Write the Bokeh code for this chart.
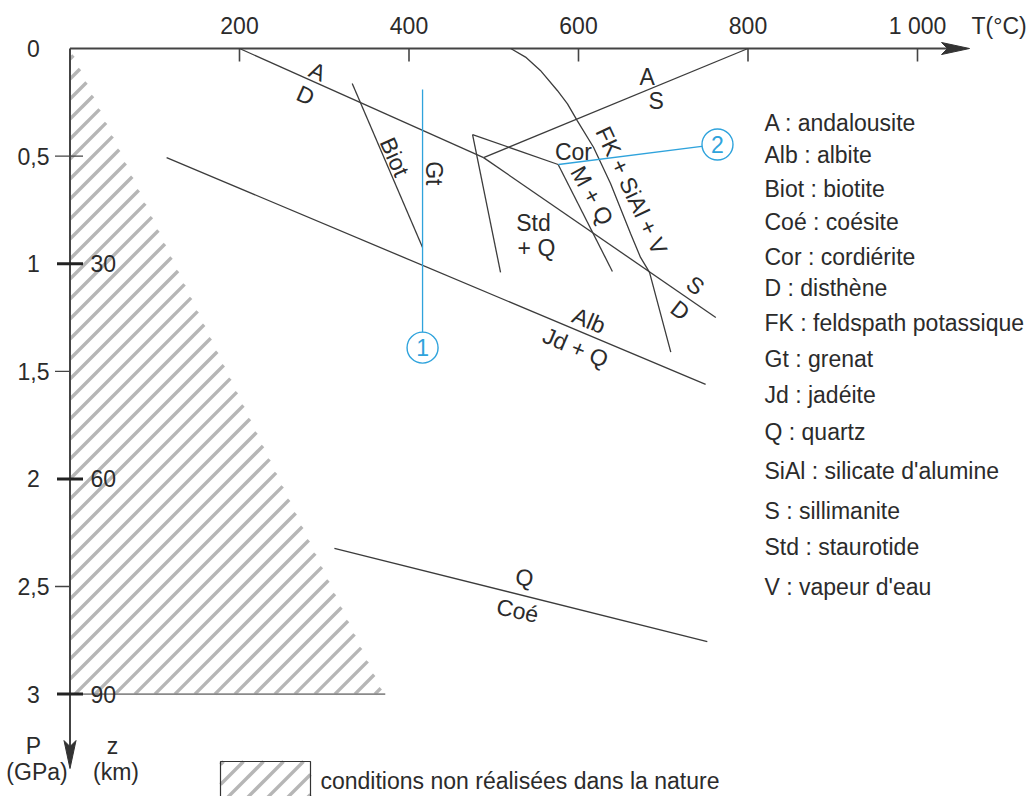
import math
from bokeh.plotting import figure
from bokeh.models import Range1d
from bokeh.core.properties import value
from bokeh.embed import file_html
from bokeh.resources import INLINE

# ---- axes values -----------------------------------------------------------
t_ticks = [200, 400, 600, 800, 1000]
t_tick_labels = ["200", "400", "600", "800", "1 000"]
p_ticks = [0, 0.5, 1, 1.5, 2, 2.5, 3]
p_tick_labels = ["0", "0,5", "1", "1,5", "2", "2,5", "3"]
p_major = [1, 2, 3]
p_minor = [0.5, 1.5, 2.5]
depth_ticks = [1, 2, 3]
depth_labels = ["30", "60", "90"]

# ---- reaction boundaries (T in °C, P in GPa) -------------------------------
ad_T, ad_P = [200, 488], [0.0, 0.507]            # andalousite / disthène
as_T, as_P = [488, 800], [0.507, 0.0]            # andalousite / sillimanite
sd_T, sd_P = [488, 762], [0.507, 1.25]           # sillimanite / disthène
biot_T, biot_P = [333, 416], [0.163, 0.925]      # biotite / grenat
alb_T, alb_P = [114, 750], [0.507, 1.561]        # albite / jadéite + quartz
coe_T, coe_P = [312, 752], [2.323, 2.756]        # quartz / coésite
std_T, std_P = [475, 508], [0.40, 1.04]          # staurotide + quartz, low-T side
stdcor_T, stdcor_P = [475, 576], [0.40, 0.539]   # staurotide / cordiérite
mq_T, mq_P = [576, 640], [0.539, 1.036]          # cordiérite / M + Q
fk_T = [520, 537.5, 555, 575, 587, 598.5, 617.7, 637.8, 661.4, 673.2, 683.8, 708.9]
fk_P = [0.0, 0.04, 0.102, 0.195, 0.257, 0.335, 0.459, 0.627, 0.860, 0.971, 1.04, 1.411]

# ---- P-T paths -----------------------------------------------------------------
path1_T, path1_P = [416, 416], [0.19, 1.39]
path2_T, path2_P = [576.4, 764], [0.539, 0.446]

# ---- forbidden domain --------------------------------------------------------
hatch_T, hatch_P = [0, 370, 0], [0.0, 3.0, 3.0]
floor_T, floor_P = [0, 372], [3.0, 3.0]

legend_entries = [
    "A : andalousite", "Alb : albite", "Biot : biotite", "Coé : coésite",
    "Cor : cordiérite", "D : disthène", "FK : feldspath potassique",
    "Gt : grenat", "Jd : jadéite", "Q : quartz", "SiAl : silicate d'alumine",
    "S : sillimanite", "Std : staurotide", "V : vapeur d'eau",
]
legend_rows_P = [0.347, 0.497, 0.655, 0.807, 0.970, 1.115, 1.276,
                 1.445, 1.608, 1.783, 1.964, 2.147, 2.317, 2.503]

# ---- page geometry -------------------------------------------------------------
W, H = 1027, 796
X0, Y0 = 69.5, 48.0        # pixel position of T = 0, P = 0
KX, KY = 0.8475, 215.2     # pixels per °C, pixels per GPa

FONT = "Liberation Sans"
SIZE = "23px"
INK = "#2b2b2b"
LINE = "#3c3c3c"
BLUE = "#2fa3dc"
HATCH = "#b6b6b6"
HATCH_STEP = 20.0          # px between hatch lines, measured along a vertical
HATCH_WIDTH = 3.4


def dx(px):
    return px / KX


def dy(px):
    return px / KY


def to_px(t, pr):
    return X0 + t * KX, Y0 + pr * KY


def to_data(x, y):
    return (x - X0) / KX, (y - Y0) / KY


def hatch_lines(poly_data, phase=0.0):
    """45° '/' hatch strokes clipped to a convex polygon given in data units."""
    pts = [to_px(t, pr) for t, pr in poly_data]
    sums = [x + y for x, y in pts]
    c = math.floor((min(sums) - phase) / HATCH_STEP) * HATCH_STEP + phase
    xs_out, ys_out = [], []
    while c <= max(sums):
        hits = []
        for i in range(len(pts)):
            (x1, y1), (x2, y2) = pts[i], pts[(i + 1) % len(pts)]
            f1, f2 = x1 + y1 - c, x2 + y2 - c
            if f1 * f2 <= 0 and f1 != f2:
                k = f1 / (f1 - f2)
                hits.append((x1 + k * (x2 - x1), y1 + k * (y2 - y1)))
        if len(hits) >= 2:
            hits.sort()
            (xa, ya), (xb, yb) = hits[0], hits[-1]
            if abs(xb - xa) + abs(yb - ya) > 1:
                ta, pa = to_data(xa, ya)
                tb, pb = to_data(xb, yb)
                xs_out.append([ta, tb])
                ys_out.append([pa, pb])
        c += HATCH_STEP
    return xs_out, ys_out


p = figure(width=W, height=H,
           x_range=Range1d(-X0 / KX, (W - X0) / KX),
           y_range=Range1d((H - Y0) / KY, -Y0 / KY),
           x_axis_type=None, y_axis_type=None,
           output_backend="svg", toolbar_location=None, min_border=0)
p.grid.visible = False
p.outline_line_color = None
p.background_fill_color = "white"
p.border_fill_color = "white"


def label(x, y, txt, angle=0, align="center", size=SIZE, color=INK):
    p.text(x=[x], y=[y], text=[txt], angle=math.radians(angle),
           text_align=align, text_baseline="middle",
           text_font=value(FONT), text_font_size=size, text_color=color)


# hatched domain
hx, hy = hatch_lines(list(zip(hatch_T, hatch_P)), phase=8)
p.multi_line(hx, hy, line_color=HATCH, line_width=HATCH_WIDTH)
p.line(floor_T, floor_P, line_color="#8a8a8a", line_width=1.6)

# axes
t_tip = 1061.4
p.line([0, t_tip - dx(20)], [0, 0], line_color="#444444", line_width=2)
p.patch([t_tip, t_tip - dx(28), t_tip - dx(22), t_tip - dx(28)],
        [0, -dy(6), 0, dy(6)], fill_color="#333333", line_color="#333333", line_width=1)
p_tip = 3.346
p.line([0, 0], [0, p_tip - dy(20)], line_color="#444444", line_width=2)
p.patch([0, -dx(6), 0, dx(6)],
        [p_tip, p_tip - dy(28), p_tip - dy(22), p_tip - dy(28)],
        fill_color="#333333", line_color="#333333", line_width=1)

for t, lab in zip(t_ticks, t_tick_labels):
    p.line([t, t], [0, dy(13)], line_color="#444444", line_width=1.6)
    label(t, -dy(23), lab)
label(1061.4 + dx(2), -dy(23), "T(°C)", align="left")

for pv in p_minor:
    left = -dx(15)
    right = dx(13) if pv == 0.5 else 0
    p.line([left, right], [pv, pv], line_color="#444444", line_width=1.3)
for pv in p_major:
    p.line([-dx(13), dx(13)], [pv, pv], line_color="#222222", line_width=3)
for pv, lab in zip(p_ticks, p_tick_labels):
    label(-dx(36.5), pv, lab)
for pv, lab in zip(depth_ticks, depth_labels):
    label(dx(20.5), pv, lab, align="left")

label(-dx(36.5), 3.239, "P")
label(-dx(33), 3.364, "(GPa)")
label(dx(42.5), 3.239, "z")
label(dx(46), 3.364, "(km)")

# reaction lines
for xs, ys in [(ad_T, ad_P), (as_T, as_P), (sd_T, sd_P), (biot_T, biot_P),
               (alb_T, alb_P), (coe_T, coe_P), (std_T, std_P),
               (stdcor_T, stdcor_P), (mq_T, mq_P), (fk_T, fk_P)]:
    p.line(xs, ys, line_color=LINE, line_width=1.3)

# P-T paths
p.line(path1_T, path1_P, line_color=BLUE, line_width=1.3)
p.line(path2_T, path2_P, line_color=BLUE, line_width=1.3)
p.scatter([path1_T[-1], path2_T[-1]], [path1_P[-1], path2_P[-1]], marker="circle",
          size=31, fill_color="white", line_color=BLUE, line_width=1.4)
label(path1_T[-1], path1_P[-1], "1", color=BLUE)
label(path2_T[-1], path2_P[-1], "2", color=BLUE)

# field labels
label(292, 0.107, "A", angle=-24)
label(278, 0.218, "D", angle=-24)
label(681, 0.133, "A")
label(691.7, 0.246, "S")
label(383, 0.504, "Biot", angle=-66)
label(430, 0.58, "Gt", angle=-90)
label(594, 0.483, "Cor")
label(616, 0.683, "M + Q", angle=-61)
label(662.5, 0.66, "FK + SiAl + V", angle=-65)
label(546.9, 0.809, "Std")
label(550.4, 0.925, "+ Q")
label(738, 1.101, "S", angle=-38)
label(720, 1.217, "D", angle=-38)
label(612.4, 1.264, "Alb", angle=-23)
label(596.5, 1.389, "Jd + Q", angle=-23)
label(536.3, 2.458, "Q", angle=-8)
label(528, 2.612, "Coé", angle=-12)

# abbreviations
for txt, pv in zip(legend_entries, legend_rows_P):
    label(dx(764 - X0), pv, txt, align="left")

# hatch key
key_l, key_r = dx(220 - X0), dx(310 - X0)
key_t, key_b = dy(761 - Y0), dy(805 - Y0)
kx, ky = hatch_lines([(key_l, key_t), (key_r, key_t), (key_r, key_b), (key_l, key_b)], phase=4)
p.multi_line(kx, ky, line_color=HATCH, line_width=HATCH_WIDTH)
p.quad(left=key_l, right=key_r, top=key_t, bottom=key_b,
       fill_alpha=0, line_color="#333333", line_width=1.2)
label(dx(320 - X0), dy(780 - Y0), "conditions non réalisées dans la nature", align="left")

open("out.html", "w").write(file_html(p, INLINE))
